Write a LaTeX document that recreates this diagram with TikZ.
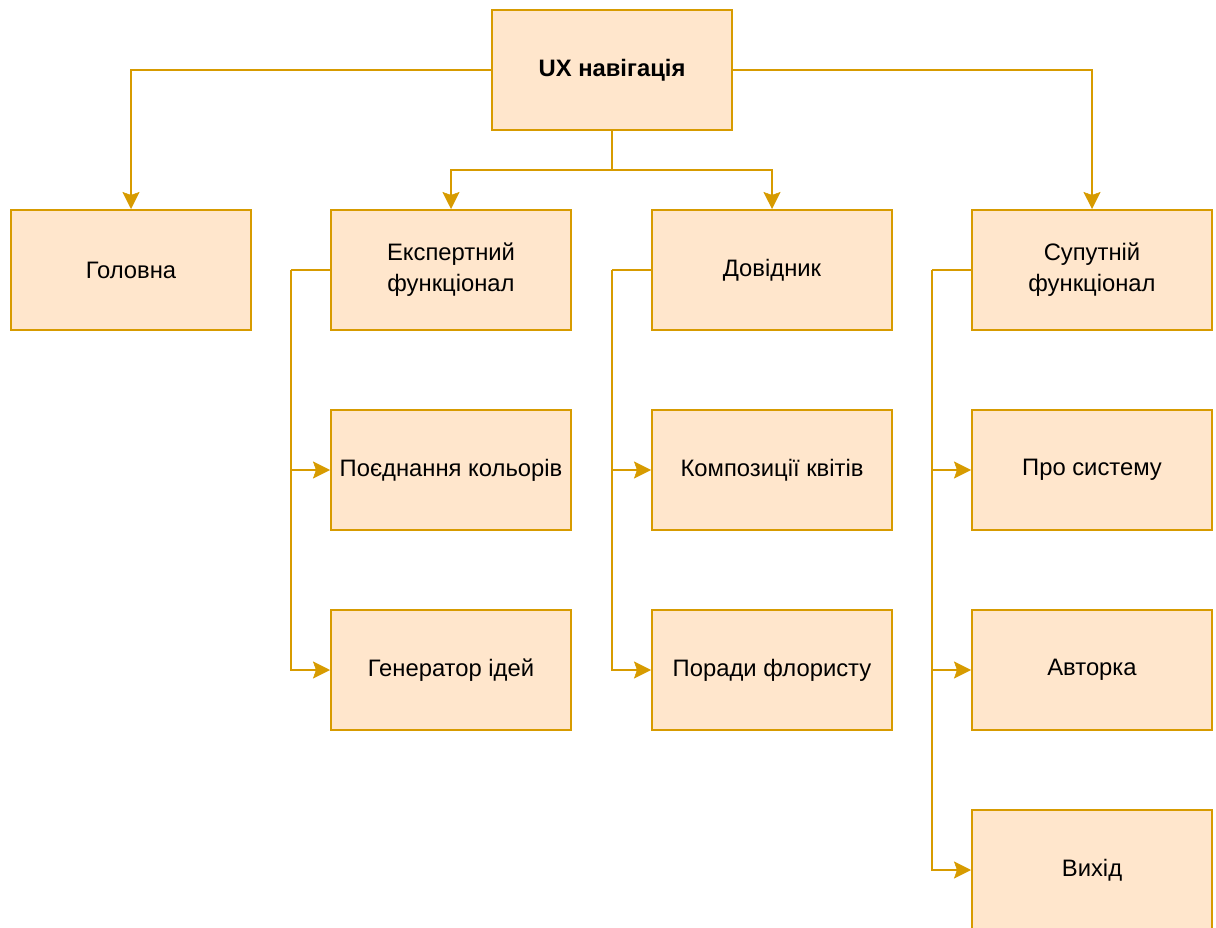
\documentclass[tikz,border=0pt]{standalone}
\usepackage{fontspec}
\setmainfont{Liberation Sans}
\usetikzlibrary{arrows.meta}
\definecolor{boxfill}{HTML}{FFE6CC}
\definecolor{boxline}{HTML}{D79B00}
\begin{document}
\begin{tikzpicture}[x=1pt,y=-1pt,
  box/.style={draw=boxline,fill=boxfill,line width=2pt,minimum width=240pt,minimum height=120pt,inner sep=0pt,align=center,font=\fontsize{23.8}{31}\selectfont},
  conn/.style={draw=boxline,line width=2pt,-{Stealth[length=17pt,width=17pt,inset=3pt,line width=0.5pt]}},
  plain/.style={draw=boxline,line width=2pt}]
\useasboundingbox (0,0) rectangle (1216,928);
\node[box,font=\bfseries\fontsize{23.8}{31}\selectfont] (ux) at (612,70) {UX навігація};
\node[box] (hol) at (131,270) {Головна};
\node[box] (exp) at (451,270) {Експертний\\функціонал};
\node[box] (dov) at (772,270) {Довідник};
\node[box] (sup) at (1092,270) {Супутній\\функціонал};
\node[box] (poed) at (451,470) {Поєднання кольорів};
\node[box] (gen) at (451,670) {Генератор ідей};
\node[box] (komp) at (772,470) {Композиції квітів};
\node[box] (por) at (772,670) {Поради флористу};
\node[box] (pro) at (1092,470) {Про систему};
\node[box] (avt) at (1092,670) {Авторка};
\node[box] (vyh) at (1092,870) {Вихід};
\draw[conn] (ux.west) -| (hol.north);
\draw[conn] (ux.east) -| (sup.north);
\coordinate (mid) at (612,170);
\draw[plain] (ux.south) -- (mid);
\draw[conn] (mid) -| (exp.north);
\draw[conn] (mid) -| (dov.north);
\coordinate (ex) at (291,270);
\draw[plain] (exp.west) -- (ex);
\draw[conn] (ex) |- (poed.west);
\draw[conn] (ex) |- (gen.west);
\coordinate (dx) at (612,270);
\draw[plain] (dov.west) -- (dx);
\draw[conn] (dx) |- (komp.west);
\draw[conn] (dx) |- (por.west);
\coordinate (sx) at (932,270);
\draw[plain] (sup.west) -- (sx);
\draw[conn] (sx) |- (pro.west);
\draw[conn] (sx) |- (avt.west);
\draw[conn] (sx) |- (vyh.west);
\end{tikzpicture}
\end{document}
